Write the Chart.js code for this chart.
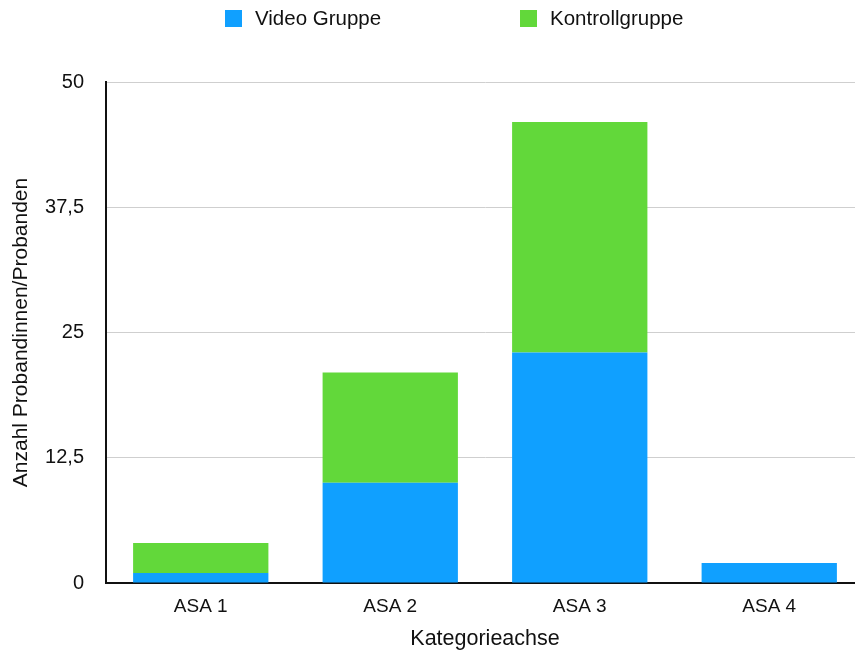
<!DOCTYPE html>
<html>
<head>
<meta charset="utf-8">
<script src="https://cdn.jsdelivr.net/npm/chart.js@4.4.0/dist/chart.umd.min.js"></script>
<style>
  body { margin: 0; overflow: hidden; background: #fff; font-family: "Liberation Sans", Arial, sans-serif; }
  #wrap { position: relative; width: 870px; height: 652px; }
  #legend { position: absolute; top: 6px; left: 225px; display: flex; }
  .item { display: flex; align-items: center; font-size: 20.5px; color: #111; height: 24px; }
  .item:first-child { width: 295px; }
  .box { width: 17px; height: 17px; margin-right: 13px; }
</style>
</head>
<body>
<div id="wrap">
  <canvas id="chart" width="870" height="652"></canvas>
  <div id="legend"></div>
</div>
<script>
// categories + series
const categories = ["ASA 1", "ASA 2", "ASA 3", "ASA 4"];
const videoGruppe = [1, 10, 23, 2];
const kontrollgruppe = [3, 11, 23, 0];
const yTicks = [0, 12.5, 25, 37.5, 50];

const blue = "#10a0ff";
const green = "#62d83a";
const fontFam = "'Liberation Sans', Arial, sans-serif";

const ctx = document.getElementById("chart").getContext("2d");

const my_chart = new Chart(ctx, {
  type: "bar",
  data: {
    labels: categories,
    datasets: [
      { label: "Video Gruppe", data: videoGruppe, backgroundColor: blue },
      { label: "Kontrollgruppe", data: kontrollgruppe, backgroundColor: green },
    ],
  },
  options: {
    responsive: false,
    animation: false,
    devicePixelRatio: 1,
    barPercentage: 0.714,
    categoryPercentage: 1,
    layout: { padding: { top: 82, left: 6, right: 6, bottom: 0 } },
    plugins: { legend: { display: false }, tooltip: { enabled: false } },
    scales: {
      x: {
        stacked: true,
        afterFit: (scale) => { scale.height = 69; },
        grid: { display: false },
        border: { display: true, color: "#111", width: 2 },
        ticks: { color: "#111", padding: 4, font: { family: fontFam, size: 19 } },
        title: { display: true, text: "Kategorieachse", color: "#111", padding: { top: 0, bottom: 0 }, font: { family: fontFam, size: 21.5 } },
      },
      y: {
        stacked: true,
        min: 0,
        max: 50,
        afterBuildTicks: (scale) => { scale.ticks = yTicks.map((v) => ({ value: v })); },
        afterFit: (scale) => { scale.width = 100; },
        grid: { color: "#cfcfcf", lineWidth: 1, drawTicks: false },
        border: { display: true, color: "#111", width: 2 },
        ticks: {
          color: "#111",
          padding: 22,
          font: { family: fontFam, size: 20 },
          callback: (v) => String(v).replace(".", ","),
        },
        title: { display: true, text: "Anzahl Probandinnen/Probanden", color: "#111", padding: 3, font: { family: fontFam, size: 21 } },
      },
    },
  },
});

// html legend built from the datasets
const legend = document.getElementById("legend");
my_chart.data.datasets.forEach((ds) => {
  const item = document.createElement("div");
  item.className = "item";
  item.innerHTML = '<span class="box" style="background:' + ds.backgroundColor + '"></span>' + ds.label;
  legend.appendChild(item);
});
</script>
</body>
</html>
